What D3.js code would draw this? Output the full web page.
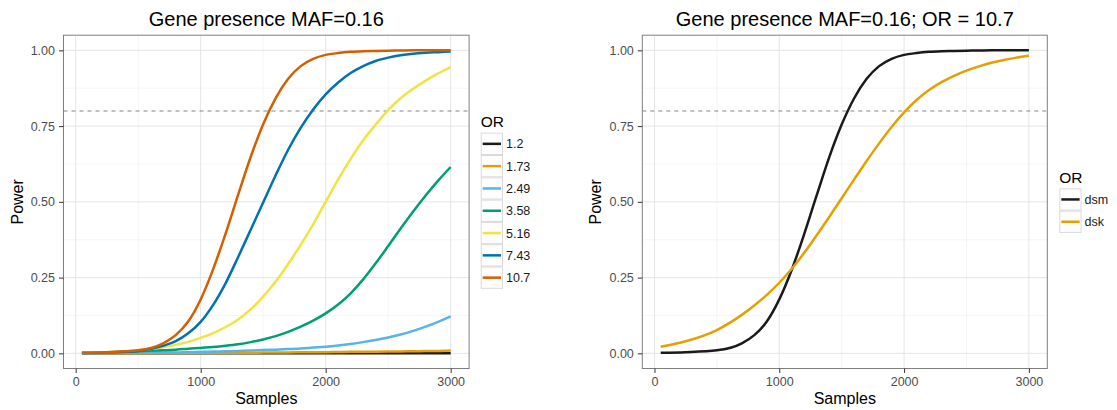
<!DOCTYPE html>
<html>
<head>
<meta charset="utf-8">
<script src="https://cdn.jsdelivr.net/npm/d3@7"></script>
<style>
  body { margin: 0; background: #fff; }
  svg { display: block; font-family: 'Liberation Sans', Arial, Helvetica, sans-serif; }
  .tick-label { fill: #4d4d4d; font-size: 12.5px; }
  .axis-title { fill: #000; font-size: 16px; }
  .chart-title { fill: #000; font-size: 20px; }
  .legend-title { fill: #000; font-size: 15.5px; }
  .legend-label { fill: #1a1a1a; font-size: 12.5px; }
</style>
</head>
<body>
<div id="chart"></div>
<script>
// values
const samples = [50, 250, 500, 700, 800, 900, 1000, 1100, 1200, 1300, 1400, 1500, 1600, 1700,
  1800, 1900, 2000, 2100, 2200, 2300, 2400, 2500, 2600, 2700, 2800, 2900, 3000]

const orLevels = ['1.2', '1.73', '2.49', '3.58', '5.16', '7.43', '10.7']
const orColors = ['#1a1a1a', '#E69F00', '#56B4E9', '#009E73', '#F0E442', '#0072B2', '#D55E00']

const power_1_2 = [0, 0, 0, 0, 0, 0, 0, 0, 0, 0, 0, 0, 0, 0,
  0, 0, 0, 0, 0, 0, 0, 0, 0, 0.0005, 0.0005, 0.0005, 0.0005]
const power_1_73 = [0, 0, 0.0005, 0.001, 0.001, 0.001, 0.001, 0.0015, 0.0015, 0.002, 0.002, 0.0025, 0.003, 0.003,
  0.0035, 0.004, 0.004, 0.0045, 0.005, 0.005, 0.0055, 0.006, 0.0065, 0.007, 0.0075, 0.008, 0.009]
const power_2_49 = [0, 0.001, 0.002, 0.003, 0.003, 0.004, 0.005, 0.006, 0.007, 0.008, 0.009, 0.011, 0.012, 0.014,
  0.016, 0.019, 0.022, 0.026, 0.031, 0.037, 0.044, 0.052, 0.062, 0.074, 0.088, 0.104, 0.122]
const power_3_58 = [0.002, 0.004, 0.007, 0.01, 0.012, 0.015, 0.018, 0.021, 0.025, 0.03, 0.037, 0.046, 0.057, 0.071,
  0.088, 0.108, 0.132, 0.161, 0.198, 0.244, 0.297, 0.354, 0.412, 0.468, 0.521, 0.57, 0.615]
const power_5_16 = [0.002, 0.004, 0.01, 0.02, 0.028, 0.038, 0.051, 0.067, 0.087, 0.112, 0.145, 0.187, 0.237, 0.295,
  0.358, 0.426, 0.5, 0.574, 0.642, 0.703, 0.755, 0.803, 0.842, 0.873, 0.9, 0.924, 0.945]
const power_7_43 = [0.001, 0.003, 0.008, 0.025, 0.04, 0.066, 0.104, 0.16, 0.232, 0.318, 0.408, 0.498, 0.588, 0.672,
  0.744, 0.805, 0.855, 0.894, 0.925, 0.948, 0.965, 0.976, 0.984, 0.989, 0.992, 0.994, 0.996]
const power_10_7 = [0.002, 0.004, 0.01, 0.033, 0.06, 0.105, 0.178, 0.278, 0.396, 0.524, 0.648, 0.756, 0.842, 0.906,
  0.948, 0.972, 0.985, 0.991, 0.995, 0.997, 0.998, 0.999, 0.9995, 1, 1, 1, 1]

const methodLevels = ['dsm', 'dsk']
const methodColors = ['#1a1a1a', '#E69F00']
const power_dsm = [0.002, 0.004, 0.01, 0.033, 0.06, 0.105, 0.178, 0.276, 0.394, 0.522, 0.647, 0.755, 0.842, 0.906,
  0.948, 0.972, 0.985, 0.991, 0.995, 0.997, 0.998, 0.999, 0.9995, 1, 1, 1, 1]
const power_dsk = [0.022, 0.04, 0.077, 0.127, 0.158, 0.193, 0.233, 0.279, 0.332, 0.39, 0.45, 0.512, 0.574, 0.635,
  0.693, 0.747, 0.795, 0.836, 0.869, 0.895, 0.916, 0.933, 0.947, 0.959, 0.968, 0.976, 0.982]

const xTicks = [0, 1000, 2000, 3000]
const xMinor = [500, 1500, 2500]
const yTicks = [0, 0.25, 0.5, 0.75, 1]
const yMinor = [0.125, 0.375, 0.625, 0.875]
const threshold = 0.8

const W = 1117
const H = 410

const svg = d3.select('#chart').append('svg').attr('width', W).attr('height', H)

function drawPanel({ left, right, title, levels, colors, values, legendX, legendY }) {
  const top = 35.2
  const bottom = 368.5

  const x = d3.scaleLinear().domain([-97.5, 3147.5]).range([left, right])
  const y = d3.scaleLinear().domain([-0.05, 1.05]).range([bottom, top])

  const g = svg.append('g')

  g.append('rect')
    .attr('x', left).attr('y', top)
    .attr('width', right - left).attr('height', bottom - top)
    .attr('fill', '#fff')

  // grid
  g.selectAll('.gx-minor').data(xMinor).join('line')
    .attr('x1', (d) => x(d)).attr('x2', (d) => x(d))
    .attr('y1', top).attr('y2', bottom)
    .attr('stroke', '#f3f3f3').attr('stroke-width', 0.8)
  g.selectAll('.gy-minor').data(yMinor).join('line')
    .attr('y1', (d) => y(d)).attr('y2', (d) => y(d))
    .attr('x1', left).attr('x2', right)
    .attr('stroke', '#f3f3f3').attr('stroke-width', 0.8)
  g.selectAll('.gx').data(xTicks).join('line')
    .attr('x1', (d) => x(d)).attr('x2', (d) => x(d))
    .attr('y1', top).attr('y2', bottom)
    .attr('stroke', '#e5e5e5').attr('stroke-width', 1)
  g.selectAll('.gy').data(yTicks).join('line')
    .attr('y1', (d) => y(d)).attr('y2', (d) => y(d))
    .attr('x1', left).attr('x2', right)
    .attr('stroke', '#e5e5e5').attr('stroke-width', 1)

  // reference line
  g.append('line')
    .attr('x1', left).attr('x2', right)
    .attr('y1', y(threshold)).attr('y2', y(threshold))
    .attr('stroke', '#858585').attr('stroke-width', 1.1)
    .attr('stroke-dasharray', '4,4')

  const line = d3.line()
    .x((d, i) => x(samples[i]))
    .y((d) => y(d))
    .curve(d3.curveMonotoneX)

  g.selectAll('.series').data(values).join('path')
    .attr('d', (d) => line(d))
    .attr('fill', 'none')
    .attr('stroke', (d, i) => colors[i])
    .attr('stroke-width', 2.5)
    .attr('stroke-linecap', 'butt')

  g.append('rect')
    .attr('x', left).attr('y', top)
    .attr('width', right - left).attr('height', bottom - top)
    .attr('fill', 'none').attr('stroke', '#7f7f7f').attr('stroke-width', 1)

  // axes
  const xAxis = g.append('g').attr('transform', `translate(0,${bottom})`)
  xAxis.call(d3.axisBottom(x).tickValues(xTicks).tickSize(4.5).tickPadding(4).tickFormat(d3.format('d')))
  const yAxis = g.append('g').attr('transform', `translate(${left},0)`)
  yAxis.call(d3.axisLeft(y).tickValues(yTicks).tickSize(4.5).tickPadding(4).tickFormat(d3.format('.2f')))

  for (const ax of [xAxis, yAxis]) {
    ax.attr('font-size', null).attr('font-family', null)
    ax.select('.domain').remove()
    ax.selectAll('.tick line').attr('stroke', '#333').attr('stroke-width', 1)
    ax.selectAll('.tick text')
      .attr('class', 'tick-label')
      .attr('fill', null)
  }

  const cx = (left + right) / 2
  svg.append('text').attr('class', 'chart-title')
    .attr('x', cx).attr('y', 25.5).attr('text-anchor', 'middle')
    .text(title)

  svg.append('text').attr('class', 'axis-title')
    .attr('x', cx).attr('y', 404).attr('text-anchor', 'middle')
    .text('Samples')

  svg.append('text').attr('class', 'axis-title')
    .attr('text-anchor', 'middle')
    .attr('transform', `translate(${left - 41},${(top + bottom) / 2}) rotate(-90)`)
    .text('Power')

  // legend
  const key = 22.3
  const lg = svg.append('g').attr('transform', `translate(${legendX},${legendY})`)
  lg.append('text').attr('class', 'legend-title').attr('x', 0).attr('y', -5.5).text('OR')
  const items = lg.selectAll('.key').data(levels).join('g')
    .attr('transform', (d, i) => `translate(0,${i * key})`)
  items.append('rect')
    .attr('x', 0.5).attr('y', 0.5)
    .attr('width', key - 1).attr('height', key - 1)
    .attr('fill', '#fdfdfd').attr('stroke', '#dadada').attr('stroke-width', 1)
  items.append('line')
    .attr('x1', 2).attr('x2', key - 2)
    .attr('y1', key / 2).attr('y2', key / 2)
    .attr('stroke', (d, i) => colors[i]).attr('stroke-width', 2.5)
  items.append('text').attr('class', 'legend-label')
    .attr('x', key + 3).attr('y', key / 2).attr('dy', '0.36em')
    .text((d) => d)
}

drawPanel({
  left: 63.5,
  right: 469.1,
  title: 'Gene presence MAF=0.16',
  levels: orLevels,
  colors: orColors,
  values: [power_1_2, power_1_73, power_2_49, power_3_58, power_5_16, power_7_43, power_10_7],
  legendX: 480.7,
  legendY: 132.7,
})

drawPanel({
  left: 642.3,
  right: 1047.3,
  title: 'Gene presence MAF=0.16; OR = 10.7',
  levels: methodLevels,
  colors: methodColors,
  values: [power_dsm, power_dsk],
  legendX: 1059.3,
  legendY: 188.3,
})
</script>
</body>
</html>
